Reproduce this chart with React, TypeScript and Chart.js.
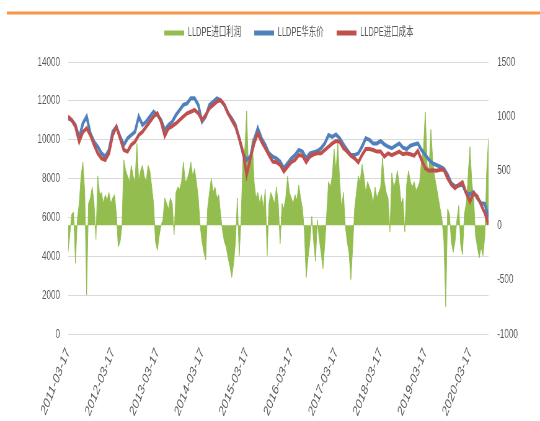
import { useEffect, useRef } from "react";
import { Chart, registerables } from "chart.js";

Chart.register(...registerables);

// ---- data ----
const tickLabels = [
  "2011-03-17", "2012-03-17", "2013-03-17", "2014-03-17", "2015-03-17",
  "2016-03-17", "2017-03-17", "2018-03-17", "2019-03-17", "2020-03-17",
];
const seriesNames = ["LLDPE进口利润", "LLDPE华东价", "LLDPE进口成本"];
const seriesColors = ["#93BE4F", "#4F81BD", "#C0504D"];

// LLDPE import profit, twice a month from 2011-03-17 (right axis)
const importProfit = [
  -250, -80, 100, 120, -350, 50, 200, 450, 580, 300,
  -640, 200, 250, 350, 200, -130, 450, 280, 300, 200,
  280, 230, 300, 200, 250, 280, 100, -200, -150, 0,
  600, 500, 450, 400, 550, 450, 400, 750, 400, 500,
  550, 450, 400, 550, 500, 350, 200, -150, -230, -100,
  0, 50, 250, 200, 150, 250, 200, -90, 300, 350,
  330, 400, 580, 400, 420, 480, 580, 450, 520, 400,
  250, 0, -150, -250, -320, 150, 300, 430, 300, 350,
  250, 280, 100, -50, -150, -200, -300, -380, -480, -350,
  -150, 250, -280, 50, 600, 700, 1050, 500, 600, 800,
  400, 250, 300, 200, 280, 150, 330, -280, 200, 300,
  250, 200, 350, 200, -170, 200, 150, 250, 450, 300,
  250, 200, 280, 230, 370, 250, 150, -50, -480, -300,
  -150, 80, -150, -330, 50, -130, -250, -400, -170, 100,
  400, 350, 450, 700, 500, 750, 400, 150, 300, 0,
  -150, -250, -500, -200, 150, 300, 450, 400, 560, 450,
  300, 400, 350, 300, 200, 350, 250, 300, 350, 620,
  400, 300, 250, -60, 480, 350, 400, 500, 380, 200,
  250, -60, 380, 500, 400, 350, 400, 320, 350, 400,
  600, 700, 1040, 550, 500, 880, 600, 450, 350, 250,
  150, 50, -150, -750, 150, 100, -150, -250, -150, 50,
  180, -180, -270, 100, 200, 450, 720, 400, 250, -100,
  -200, -300, -200, -280, -100, 500, 800,
];

// LLDPE East China price, monthly from 2011-03-17 (left axis)
const eastChinaPrice = [
  11100, 11010, 10760, 10100, 10840, 11190, 10330, 9900, 9640, 9300,
  9130, 9470, 10410, 10670, 10150, 9730, 10070, 10240, 10410, 11190,
  10760, 10930, 11190, 11440, 11270, 11010, 10500, 10760, 10930, 11270,
  11530, 11790, 11870, 12130, 12130, 11790, 10930, 11190, 11790, 11960,
  12130, 12040, 11790, 11360, 11100, 10760, 10070, 9300, 8960, 9130,
  9990, 10590, 10070, 9730, 9300, 9130, 9040, 8870, 8530, 8780,
  9040, 9210, 9470, 9390, 9040, 9300, 9350, 9420, 9560, 9810,
  10240, 10150, 10270, 10070, 9760, 9470, 9210, 9210, 9300, 9640,
  10070, 9990, 9810, 9810, 9930, 9760, 9640, 9560, 9690, 9810,
  9590, 9520, 9690, 9760, 9810, 9470, 9210, 8960, 8780, 8700,
  8610, 8500, 8190, 7760, 7590, 7640, 7680, 7250, 7200, 7300,
  6990, 6730, 6700, 6000,
];

// LLDPE import cost, monthly from 2011-03-17 (left axis)
const importCost = [
  11190, 11010, 10670, 9900, 10400, 10590, 10240, 9730, 9300, 9040,
  8960, 9300, 10240, 10670, 10070, 9470, 9390, 9730, 9900, 10240,
  10410, 10670, 10930, 11190, 11360, 10930, 10200, 10590, 10700, 10840,
  11010, 11190, 11360, 11440, 11530, 11360, 11010, 11270, 11620, 11790,
  11960, 12040, 11790, 11360, 11010, 10670, 10070, 9390, 8190, 9040,
  9810, 10330, 9900, 9560, 9210, 8870, 8840, 8700, 8360, 8610,
  8840, 8960, 9210, 9180, 8840, 9130, 9250, 9300, 9300, 9470,
  9640, 9810, 9930, 9900, 9560, 9390, 9180, 9040, 8840, 9210,
  9520, 9520, 9470, 9390, 9390, 9130, 9300, 9210, 9300, 9390,
  9250, 9300, 9250, 9180, 9420, 8960, 8530, 8400, 8430, 8400,
  8450, 8450, 8020, 7680, 7500, 7680, 7810, 7250, 6820, 7250,
  7080, 6650, 6220, 5650,
];

const leftTicks = { min: 0, max: 14000, step: 2000 };
const rightTicks = { min: -1000, max: 1500, step: 500 };

// ---- layout (canvas is drawn wide and shown squeezed horizontally) ----
const W = 540;
const H = 421;
const SQUASH = 0.62;
const IW = Math.round(W / SQUASH);
const FONT = "'Liberation Sans', 'Noto Sans CJK SC', sans-serif";
const TEXT = "#595959";

const topRule = {
  id: "topRule",
  beforeDraw(chart: any) {
    const ctx = chart.ctx;
    ctx.save();
    ctx.fillStyle = "#F79646";
    ctx.fillRect(11, 11.5, IW - 11, 3);
    ctx.restore();
  },
};

export default function App() {
  const ref = useRef<HTMLCanvasElement>(null);

  useEffect(() => {
    const canvas = ref.current;
    if (!canvas) return;
    const months = eastChinaPrice.length - 1;
    const chart = new Chart(canvas, {
      type: "line",
      data: {
        datasets: [
          {
            label: seriesNames[0],
            data: importProfit.map((v, i) => ({ x: i / 2, y: v })),
            yAxisID: "y1",
            fill: "origin",
            backgroundColor: seriesColors[0],
            borderColor: seriesColors[0],
            borderWidth: 1,
            pointRadius: 0,
            tension: 0,
            order: 3,
          },
          {
            label: seriesNames[1],
            data: eastChinaPrice.map((v, i) => ({ x: i, y: v })),
            yAxisID: "y",
            fill: false,
            borderColor: seriesColors[1],
            borderWidth: 4,
            pointRadius: 0,
            tension: 0,
            order: 2,
          },
          {
            label: seriesNames[2],
            data: importCost.map((v, i) => ({ x: i, y: v })),
            yAxisID: "y",
            fill: false,
            borderColor: seriesColors[2],
            borderWidth: 4,
            pointRadius: 0,
            tension: 0,
            order: 1,
          },
        ],
      } as any,
      options: {
        responsive: false,
        animation: false,
        devicePixelRatio: 1,
        events: [],
        layout: { padding: { top: 6, left: 61, right: 0, bottom: 0 } },
        plugins: {
          tooltip: { enabled: false },
          title: {
            display: true,
            text: "",
            weight: 500,
            font: { size: 1, lineHeight: 1 },
            padding: { top: 0, bottom: 12 },
          } as any,
          legend: {
            position: "top",
            labels: {
              boxWidth: 32,
              boxHeight: 5,
              padding: 21,
              color: TEXT,
              font: { family: FONT, size: 12 },
              generateLabels: (c: any) =>
                c.data.datasets.map((d: any, i: number) => ({
                  text: d.label,
                  fillStyle: seriesColors[i],
                  strokeStyle: seriesColors[i],
                  lineWidth: 0,
                  fontColor: TEXT,
                  hidden: false,
                  datasetIndex: i,
                })),
            },
          },
        },
        scales: {
          x: {
            type: "linear",
            min: 0,
            max: months,
            grid: { display: false },
            border: { display: false },
            afterBuildTicks: (axis: any) => {
              axis.ticks = tickLabels.map((_, i) => ({ value: i * 12 }));
            },
            afterFit: (axis: any) => {
              axis.height = 87;
            },
            ticks: {
              autoSkip: false,
              minRotation: 58,
              maxRotation: 58,
              padding: 3,
              color: TEXT,
              font: { family: FONT, size: 15 },
              callback: (_v: any, i: number) => tickLabels[i],
            },
          },
          y: {
            position: "left",
            min: leftTicks.min,
            max: leftTicks.max,
            grid: { color: "#D9D9D9", drawTicks: false, lineWidth: 1 },
            border: { display: false },
            afterFit: (axis: any) => {
              axis.width = 48.7;
            },
            ticks: {
              stepSize: leftTicks.step,
              padding: 13,
              color: TEXT,
              font: { family: FONT, size: 13 },
              callback: (v: any) => String(v),
            },
          },
          y1: {
            position: "right",
            min: rightTicks.min,
            max: rightTicks.max,
            grid: { display: false, drawTicks: false },
            border: { display: false },
            afterFit: (axis: any) => {
              axis.width = IW - 788;
            },
            ticks: {
              stepSize: rightTicks.step,
              padding: 14,
              color: TEXT,
              font: { family: FONT, size: 13 },
              callback: (v: any) => String(v),
            },
          },
        },
      } as any,
      plugins: [topRule],
    });
    return () => chart.destroy();
  }, []);

  return (
    <div style={{ position: "absolute", left: 0, top: 0, width: W, height: H, background: "#fff" }}>
      <canvas ref={ref} width={IW} height={H} style={{ width: `${W}px`, height: `${H}px`, display: "block" }} />
    </div>
  );
}
